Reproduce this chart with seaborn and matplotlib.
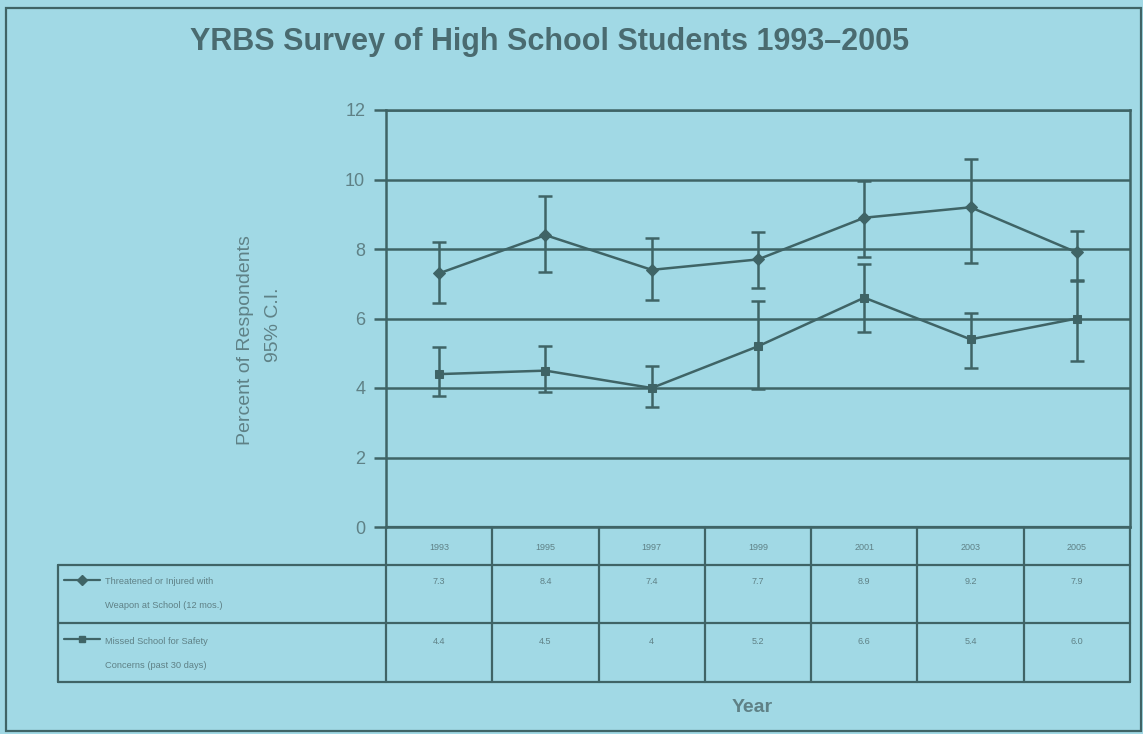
import numpy as np
import pandas as pd
import matplotlib
matplotlib.use("Agg")
import matplotlib.pyplot as plt
from matplotlib.patches import Rectangle
import seaborn as sns

# ---------------- data ----------------
years = ["1993", "1995", "1997", "1999", "2001", "2003", "2005"]
threat_name = "Threatened or Injured with\nWeapon at School (12 mos.)"
missed_name = "Missed School for Safety\nConcerns (past 30 days)"
threat_vals = [7.3, 8.4, 7.4, 7.7, 8.9, 9.2, 7.9]
threat_lo = [6.44, 7.35, 6.53, 6.89, 7.78, 7.61, 7.10]
threat_hi = [8.21, 9.52, 8.33, 8.50, 9.95, 10.58, 8.52]
missed_vals = [4.4, 4.5, 4.0, 5.2, 6.6, 5.4, 6.0]
missed_lo = [3.77, 3.88, 3.46, 3.96, 5.60, 4.58, 4.78]
missed_hi = [5.17, 5.22, 4.64, 6.50, 7.57, 6.15, 7.09]
threat_table = ["7.3", "8.4", "7.4", "7.7", "8.9", "9.2", "7.9"]
missed_table = ["4.4", "4.5", "4", "5.2", "6.6", "5.4", "6.0"]
yticks = [0, 2, 4, 6, 8, 10, 12]

# ---------------- style ----------------
BG = "#a1d9e5"
LINE = "#3f6466"
TXT = "#5f8186"
TITLE = "#4a6b70"

sns.set_theme(style="white")
plt.rcParams["font.family"] = ["Liberation Sans", "DejaVu Sans"]

W, H = 1143, 734
fig = plt.figure(figsize=(W / 100, H / 100), dpi=100, facecolor=BG)

# pixel layout
AX_L, AX_R, AX_T, AX_B = 386, 1130, 110, 527
ax = fig.add_axes([AX_L / W, 1 - AX_B / H, (AX_R - AX_L) / W, (AX_B - AX_T) / H])
ax.set_facecolor(BG)

idx = np.arange(len(years))
df = pd.DataFrame({
    "x": np.concatenate([idx, idx]),
    "value": threat_vals + missed_vals,
    "series": [threat_name] * len(years) + [missed_name] * len(years),
})

sns.lineplot(data=df, x="x", y="value", hue="series", style="series",
             markers={threat_name: "D", missed_name: "s"}, dashes=False,
             palette={threat_name: LINE, missed_name: LINE},
             markersize=6, markeredgecolor=LINE, linewidth=1.8,
             legend=False, ax=ax, zorder=4)

tv = np.array(threat_vals); mv = np.array(missed_vals)
ax.errorbar(idx, tv, yerr=[tv - np.array(threat_lo), np.array(threat_hi) - tv],
            fmt="none", ecolor=LINE, elinewidth=1.8, capsize=5, capthick=1.8, zorder=3)
ax.errorbar(idx, mv, yerr=[mv - np.array(missed_lo), np.array(missed_hi) - mv],
            fmt="none", ecolor=LINE, elinewidth=1.8, capsize=5, capthick=1.8, zorder=3)

ax.set_xlim(-0.5, len(years) - 0.5)
ax.set_ylim(0, 12)
ax.set_yticks(yticks)
ax.set_yticklabels([str(t) for t in yticks])
ax.set_xticks([])
ax.set_xlabel("")
ax.set_ylabel("")
ax.yaxis.grid(True, color=LINE, linewidth=1.8)
ax.set_axisbelow(True)
for s in ax.spines.values():
    s.set_color(LINE)
    s.set_linewidth(1.8)
    s.set_visible(True)
ax.tick_params(axis="y", which="both", left=True, length=9, width=1.8,
               color=LINE, labelcolor=TXT, labelsize=13, pad=6, direction="out")

# ---------------- overlay (table, labels, frame) in pixel coords ----------------
ov = fig.add_axes([0, 0, 1, 1], facecolor="none")
ov.set_xlim(0, W)
ov.set_ylim(H, 0)
ov.axis("off")

# outer frame
ov.add_patch(Rectangle((6, 8), 1135, 723, fill=False, edgecolor=LINE, linewidth=1.6))

# table grid
T_TOP, T_HDR, T_ROW1, T_BOT = AX_B, 565, 623, 682
LBL_L = 58
col_w = (AX_R - AX_L) / len(years)
bounds = [AX_L + i * col_w for i in range(len(years) + 1)]
for b in bounds:
    ov.plot([b, b], [T_TOP, T_BOT], color=LINE, lw=1.6)
ov.plot([AX_L, AX_R], [T_TOP, T_TOP], color=LINE, lw=1.6)
for yy in (T_HDR, T_ROW1, T_BOT):
    ov.plot([LBL_L, AX_R], [yy, yy], color=LINE, lw=1.6)
ov.plot([LBL_L, LBL_L], [T_HDR, T_BOT], color=LINE, lw=1.6)

centers = [AX_L + (i + 0.5) * col_w for i in range(len(years))]
for c, yr, a, b in zip(centers, years, threat_table, missed_table):
    ov.text(c, 548, yr, ha="center", va="center", fontsize=6.5, color=TXT)
    ov.text(c, 582, a, ha="center", va="center", fontsize=6.5, color=TXT)
    ov.text(c, 641, b, ha="center", va="center", fontsize=6.5, color=TXT)

# legend entries in label column
for ry, name, mk in ((582, threat_name, "D"), (641, missed_name, "s")):
    ov.plot([64, 100], [ry - 2, ry - 2], color=LINE, lw=1.6)
    ov.plot([82], [ry - 2], marker=mk, color=LINE, markersize=5)
    l1, l2 = name.split("\n")
    ov.text(105, ry, l1, ha="left", va="center", fontsize=6.7, color=TXT)
    ov.text(105, ry + 24, l2, ha="left", va="center", fontsize=6.7, color=TXT)

# titles and axis labels
ov.text(550, 42, "YRBS Survey of High School Students 1993\u20132005", ha="center",
        va="center", fontsize=22, fontweight="bold", color=TITLE)
ov.text(752, 708, "Year", ha="center", va="center", fontsize=14,
        fontweight="bold", color=TXT)
ov.text(246, 340, "Percent of Respondents", ha="center", va="center",
        rotation=90, fontsize=14, color=TXT)
ov.text(274, 325, "95% C.I.", ha="center", va="center",
        rotation=90, fontsize=14, color=TXT)

fig.savefig("out.png", dpi=100, facecolor=BG)
